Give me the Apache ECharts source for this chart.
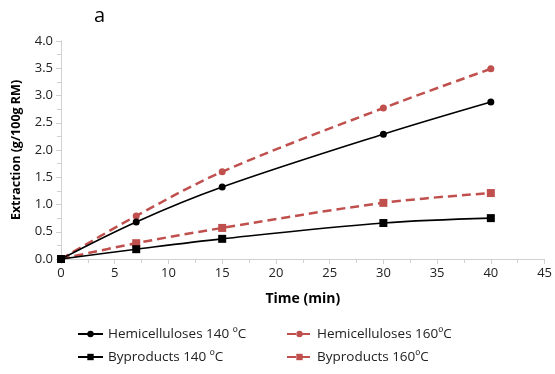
<!DOCTYPE html>
<html>
<head>
<meta charset="utf-8"/>
<title>Extraction</title>
<script src="https://cdn.jsdelivr.net/npm/echarts@6/dist/echarts.min.js"></script>
<style>body{margin:0;background:#fff}</style>
</head>
<body>
<div id="main" style="width:555px;height:374px;"></div>
<script>
// time (min)
var times = [0, 7, 15, 30, 40];
// extraction (g/100g RM)
var hemi140 = [0, 0.68, 1.32, 2.29, 2.88];
var hemi160 = [0, 0.79, 1.60, 2.77, 3.49];
var byp140 = [0, 0.18, 0.37, 0.66, 0.75];
var byp160 = [0, 0.29, 0.57, 1.03, 1.21];
var names = ['Hemicelluloses 140 ºC', 'Hemicelluloses 160ºC', 'Byproducts 140 ºC', 'Byproducts 160ºC'];

function pairs(ys) {
    return times.map(function (t, i) { return [t, ys[i]]; });
}

var red = '#c0504d';
var font = 'Open Sans';
var myChart = echarts.init(document.getElementById('main'));

function mkSeries(name, ys, color, symbol, size, dashed) {
    return {
        name: name,
        type: 'line',
        data: pairs(ys),
        smooth: 0.35,
        symbol: symbol,
        symbolSize: size,
        itemStyle: {color: color},
        lineStyle: {color: color, width: dashed ? 2.5 : 1.6, type: dashed ? [9, 5] : 'solid'},
        z: dashed ? 3 : 4
    };
}

var legendText = {fontFamily: font, fontSize: 13.5, color: '#222'};

var option = {
    animation: false,
    title: {
        text: 'a', left: 89, top: 1,
        textStyle: {fontFamily: font, fontSize: 20, fontWeight: 'normal', color: '#000'}
    },
    legend: [
        {data: [names[0], names[2]], orient: 'vertical', left: 72, top: 322, itemGap: 9, itemWidth: 25, itemHeight: 8, textStyle: legendText},
        {data: [names[1], names[3]], orient: 'vertical', left: 281, top: 322, itemGap: 9, itemWidth: 25, itemHeight: 8, textStyle: legendText}
    ],
    grid: {left: 61, right: 8, top: 41, bottom: 115},
    xAxis: {
        type: 'value', min: 0, max: 45, interval: 5,
        name: 'Time (min)', nameLocation: 'middle', nameGap: 33,
        nameTextStyle: {fontFamily: font, fontSize: 14, fontWeight: 'bold', color: '#000'},
        axisLine: {lineStyle: {color: '#d0d0d0'}},
        axisTick: {lineStyle: {color: '#d0d0d0'}, length: 5},
        minorTick: {show: true, splitNumber: 2, length: 4, lineStyle: {color: '#d0d0d0'}},
        axisLabel: {fontFamily: font, fontSize: 13, color: '#222', margin: 8},
        splitLine: {show: false}
    },
    yAxis: {
        type: 'value', min: 0, max: 4, interval: 0.5,
        name: 'Extraction (g/100g RM)', nameLocation: 'middle', nameGap: 38,
        nameTextStyle: {fontFamily: font, fontSize: 12.5, fontWeight: 'bold', color: '#000'},
        axisLine: {show: true, lineStyle: {color: '#d0d0d0'}},
        axisTick: {show: true, lineStyle: {color: '#d0d0d0'}, length: 5},
        minorTick: {show: true, splitNumber: 2, length: 4, lineStyle: {color: '#d0d0d0'}},
        axisLabel: {fontFamily: font, fontSize: 13, color: '#222', margin: 8,
            formatter: function (v) { return v.toFixed(1); }},
        splitLine: {show: false}
    },
    series: [
        mkSeries(names[0], hemi140, '#000', 'circle', 7, false),
        mkSeries(names[1], hemi160, red, 'circle', 7, true),
        mkSeries(names[2], byp140, '#000', 'rect', 8, false),
        mkSeries(names[3], byp160, red, 'rect', 8, true)
    ]
};
myChart.setOption(option);
</script>
</body>
</html>
